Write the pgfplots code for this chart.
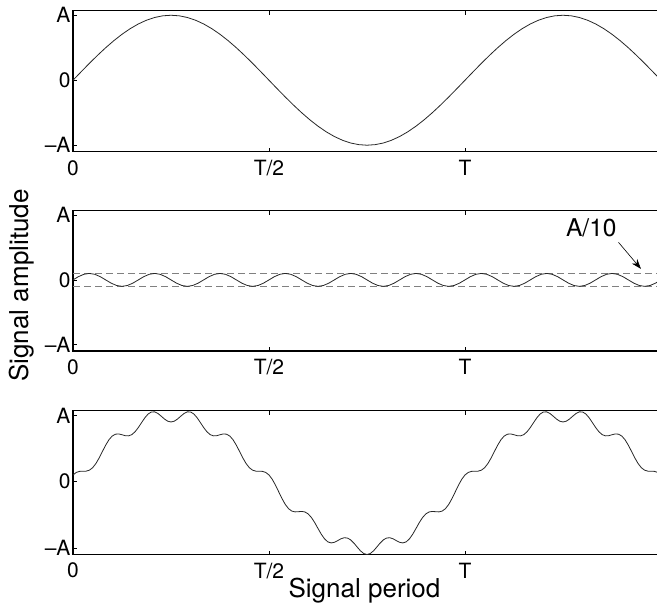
\documentclass[border=0pt]{standalone}
\usepackage{fontspec}
\setmainfont{TeX Gyre Heros}
\usepackage{pgfplots}
\pgfplotsset{compat=1.18}
\usetikzlibrary{arrows.meta}

\pgfplotsset{
  panel/.style={
    scale only axis, anchor=north west,
    width=588pt,
    xmin=0, xmax=540, ymin=-1.1, ymax=1.07,
    xtick={0,180,360}, xticklabels={0,T/2,T},
    ytick={-1,0,1}, yticklabels={--A,0,A},
    tick align=inside, major tick length=4pt,
    axis line style={line width=1.1pt},
    tick style={line width=0.7pt, black},
    ticklabel style={font=\fontsize{21}{24}\selectfont},
    xticklabel style={yshift=-5pt},
    yticklabel style={xshift=1pt},
    clip=false,
  },
  sig/.style={black!85, line width=0.8pt},
}

\begin{document}
\begin{tikzpicture}

% pure sine
\begin{axis}[panel, at={(73pt,-10.7pt)}, height=141pt]
\addplot[sig] coordinates {
(0,0)(7.5,.1305)(15,.2588)(22.5,.3827)(30,.5)(37.5,.6088)(45,.7071)(52.5,.7934)(60,.8660)(67.5,.9239)(75,.9659)(82.5,.9914)(90,1)
(97.5,.9914)(105,.9659)(112.5,.9239)(120,.8660)(127.5,.7934)(135,.7071)(142.5,.6088)(150,.5)(157.5,.3827)(165,.2588)(172.5,.1305)(180,0)
(187.5,-.1305)(195,-.2588)(202.5,-.3827)(210,-.5)(217.5,-.6088)(225,-.7071)(232.5,-.7934)(240,-.8660)(247.5,-.9239)(255,-.9659)(262.5,-.9914)(270,-1)
(277.5,-.9914)(285,-.9659)(292.5,-.9239)(300,-.8660)(307.5,-.7934)(315,-.7071)(322.5,-.6088)(330,-.5)(337.5,-.3827)(345,-.2588)(352.5,-.1305)(360,0)
(367.5,.1305)(375,.2588)(382.5,.3827)(390,.5)(397.5,.6088)(405,.7071)(412.5,.7934)(420,.8660)(427.5,.9239)(435,.9659)(442.5,.9914)(450,1)
(457.5,.9914)(465,.9659)(472.5,.9239)(480,.8660)(487.5,.7934)(495,.7071)(502.5,.6088)(510,.5)(517.5,.3827)(525,.2588)(532.5,.1305)(540,0)
};
\end{axis}

% ripple, amplitude A/10
\begin{axis}[panel, at={(73pt,-210.7pt)}, height=140.3pt]
\addplot[gray, line width=0.6pt, dash pattern=on 7pt off 4pt] coordinates {(0,0.1)(540,0.1)};
\addplot[gray, line width=0.6pt, dash pattern=on 7pt off 4pt] coordinates {(0,-0.1)(540,-0.1)};
\addplot[sig] coordinates {
(0,0)(5,.05)(10,.0866)(15,.1)(20,.0866)(25,.05)(30,0)(35,-.05)(40,-.0866)(45,-.1)(50,-.0866)(55,-.05)
(60,0)(65,.05)(70,.0866)(75,.1)(80,.0866)(85,.05)(90,0)(95,-.05)(100,-.0866)(105,-.1)(110,-.0866)(115,-.05)
(120,0)(125,.05)(130,.0866)(135,.1)(140,.0866)(145,.05)(150,0)(155,-.05)(160,-.0866)(165,-.1)(170,-.0866)(175,-.05)
(180,0)(185,.05)(190,.0866)(195,.1)(200,.0866)(205,.05)(210,0)(215,-.05)(220,-.0866)(225,-.1)(230,-.0866)(235,-.05)
(240,0)(245,.05)(250,.0866)(255,.1)(260,.0866)(265,.05)(270,0)(275,-.05)(280,-.0866)(285,-.1)(290,-.0866)(295,-.05)
(300,0)(305,.05)(310,.0866)(315,.1)(320,.0866)(325,.05)(330,0)(335,-.05)(340,-.0866)(345,-.1)(350,-.0866)(355,-.05)
(360,0)(365,.05)(370,.0866)(375,.1)(380,.0866)(385,.05)(390,0)(395,-.05)(400,-.0866)(405,-.1)(410,-.0866)(415,-.05)
(420,0)(425,.05)(430,.0866)(435,.1)(440,.0866)(445,.05)(450,0)(455,-.05)(460,-.0866)(465,-.1)(470,-.0866)(475,-.05)
(480,0)(485,.05)(490,.0866)(495,.1)(500,.0866)(505,.05)(510,0)(515,-.05)(520,-.0866)(525,-.1)(530,-.0866)(535,-.05)
(540,0)
};
\node[font=\fontsize{24.5}{28}\selectfont] at (axis cs:476,0.81) {A/10};
\draw[black, line width=0.6pt, -{Stealth[length=10pt,width=7pt]}] (axis cs:501,0.58) -- (axis cs:521.6,0.17);
\end{axis}

% sine plus ripple
\begin{axis}[panel, at={(73pt,-410.7pt)}, height=143.8pt]
\addplot[sig] coordinates {
(0,0.1)(3,0.1389)(6,0.1545)(9,0.1564)(12,0.1579)(15,0.1722)(18,0.2090)(21,0.2718)(24,0.3567)(27,0.4540)(30,0.55)(33,0.6312)(36,0.6878)(39,0.7159)(42,0.7191)(45,0.7071)(48,0.6931)(51,0.6905)(54,0.7090)(57,0.7521)(60,0.8160)(63,0.8910)(66,0.9635)(69,1.0202)(72,1.0511)(75,1.0525)(78,1.0281)(81,0.9877)(84,0.9445)(87,0.9120)(90,0.9)
(93,0.9120)(96,0.9445)(99,0.9877)(102,1.0281)(105,1.0525)(108,1.0511)(111,1.0202)(114,0.9635)(117,0.8910)(120,0.8160)(123,0.7521)(126,0.7090)(129,0.6905)(132,0.6931)(135,0.7071)(138,0.7191)(141,0.7159)(144,0.6878)(147,0.6312)(150,0.55)(153,0.4540)(156,0.3567)(159,0.2718)(162,0.2090)(165,0.1722)(168,0.1579)(171,0.1564)(174,0.1545)(177,0.1389)(180,0.1)
(183,0.0343)(186,-0.0545)(189,-0.1564)(192,-0.2579)(195,-0.3454)(198,-0.4090)(201,-0.4450)(204,-0.4567)(207,-0.4540)(210,-0.45)(213,-0.4580)(216,-0.4878)(219,-0.5427)(222,-0.6191)(225,-0.7071)(228,-0.7931)(231,-0.8637)(234,-0.9090)(237,-0.9253)(240,-0.9160)(243,-0.8910)(246,-0.8635)(249,-0.8470)(252,-0.8511)(255,-0.8793)(258,-0.9281)(261,-0.9877)(264,-1.0445)(267,-1.0852)(270,-1.1)
(273,-1.0852)(276,-1.0445)(279,-0.9877)(282,-0.9281)(285,-0.8793)(288,-0.8511)(291,-0.8470)(294,-0.8635)(297,-0.8910)(300,-0.9160)(303,-0.9253)(306,-0.9090)(309,-0.8637)(312,-0.7931)(315,-0.7071)(318,-0.6191)(321,-0.5427)(324,-0.4878)(327,-0.4580)(330,-0.45)(333,-0.4540)(336,-0.4567)(339,-0.4450)(342,-0.4090)(345,-0.3454)(348,-0.2579)(351,-0.1564)(354,-0.0545)(357,0.0343)(360,0.1)
(363,0.1389)(366,0.1545)(369,0.1564)(372,0.1579)(375,0.1722)(378,0.2090)(381,0.2718)(384,0.3567)(387,0.4540)(390,0.55)(393,0.6312)(396,0.6878)(399,0.7159)(402,0.7191)(405,0.7071)(408,0.6931)(411,0.6905)(414,0.7090)(417,0.7521)(420,0.8160)(423,0.8910)(426,0.9635)(429,1.0202)(432,1.0511)(435,1.0525)(438,1.0281)(441,0.9877)(444,0.9445)(447,0.9120)(450,0.9)
(453,0.9120)(456,0.9445)(459,0.9877)(462,1.0281)(465,1.0525)(468,1.0511)(471,1.0202)(474,0.9635)(477,0.8910)(480,0.8160)(483,0.7521)(486,0.7090)(489,0.6905)(492,0.6931)(495,0.7071)(498,0.7191)(501,0.7159)(504,0.6878)(507,0.6312)(510,0.55)(513,0.4540)(516,0.3567)(519,0.2718)(522,0.2090)(525,0.1722)(528,0.1579)(531,0.1564)(534,0.1545)(537,0.1389)(540,0.1)
};
\end{axis}

\node[rotate=90, anchor=base, font=\fontsize{26}{30}\selectfont] at (28.5pt,-285.5pt) {Signal amplitude};
\node[anchor=base, font=\fontsize{26}{30}\selectfont] at (364.5pt,-597pt) {Signal period};

\pgfresetboundingbox
\useasboundingbox (0pt,0pt) rectangle (657pt,-606pt);
\end{tikzpicture}
\end{document}
